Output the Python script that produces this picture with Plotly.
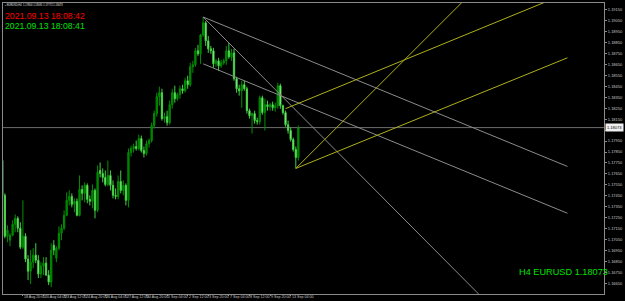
import plotly.graph_objects as go

# ---- data (EURUSD H4, bar index 0 = 17 Aug 2021 12:00) ----
open_ = [1.17772, 1.17454, 1.17080, 1.17044, 1.17089, 1.17189, 1.17244, 1.17153, 1.16980, 1.17080,
         1.16871, 1.16761, 1.16843, 1.16907, 1.16861, 1.16734, 1.16807, 1.16834, 1.16725, 1.16661,
         1.16998, 1.16880, 1.16971, 1.17107, 1.17153, 1.17271, 1.17408, 1.17444, 1.17372, 1.17399,
         1.17271, 1.17508, 1.17472, 1.17545, 1.17417, 1.17399, 1.17499, 1.17317, 1.17681, 1.17654,
         1.17618, 1.17554, 1.17636, 1.17545, 1.17454, 1.17444, 1.17581, 1.17499, 1.17545, 1.17408,
         1.17845, 1.17882, 1.17900, 1.17882, 1.17973, 1.17863, 1.17836, 1.17927, 1.17955, 1.18091,
         1.18201, 1.18355, 1.18392, 1.18155, 1.18173, 1.18119, 1.18283, 1.18392, 1.18337, 1.18374,
         1.18428, 1.18410, 1.18501, 1.18465, 1.18629, 1.18647, 1.18775, 1.18747, 1.18920, 1.19030,
         1.18866, 1.18793, 1.18775, 1.18656, 1.18683, 1.18638, 1.18665, 1.18683, 1.18775, 1.18720,
         1.18756, 1.18519, 1.18428, 1.18410, 1.18465, 1.18428, 1.18228, 1.18182, 1.18201, 1.18137,
         1.18128, 1.18346, 1.18210, 1.18283, 1.18264, 1.18283, 1.18255, 1.18273, 1.18456, 1.18273,
         1.18210, 1.18100, 1.18046, 1.17964, 1.17873, 1.17800]
high = [1.17818, 1.17472, 1.17180, 1.17107, 1.17226, 1.17280, 1.17262, 1.17208, 1.17408, 1.17107,
        1.16907, 1.16953, 1.16971, 1.17016, 1.16907, 1.16843, 1.16889, 1.16889, 1.16770, 1.17016,
        1.17044, 1.16989, 1.17171, 1.17189, 1.17317, 1.17481, 1.17499, 1.17472, 1.17426, 1.17426,
        1.17636, 1.17545, 1.17572, 1.17563, 1.17454, 1.17554, 1.17517, 1.17727, 1.17754, 1.17700,
        1.17681, 1.17772, 1.17681, 1.17590, 1.17517, 1.17636, 1.17681, 1.17590, 1.17563, 1.17882,
        1.17909, 1.17927, 1.17955, 1.18009, 1.18000, 1.17900, 1.17955, 1.17973, 1.18119, 1.18228,
        1.18392, 1.18447, 1.18428, 1.18210, 1.18228, 1.18319, 1.18428, 1.18456, 1.18392, 1.18456,
        1.18465, 1.18529, 1.18547, 1.18665, 1.18683, 1.18802, 1.18829, 1.18929, 1.19084, 1.19048,
        1.18911, 1.18820, 1.18802, 1.18702, 1.18711, 1.18693, 1.18702, 1.18820, 1.18847, 1.18793,
        1.18793, 1.18538, 1.18465, 1.18501, 1.18501, 1.18447, 1.18246, 1.18210, 1.18228, 1.18164,
        1.18365, 1.18365, 1.18337, 1.18319, 1.18301, 1.18310, 1.18301, 1.18483, 1.18474, 1.18283,
        1.18228, 1.18137, 1.18073, 1.17982, 1.17900, 1.18091]
low = [1.17426, 1.17062, 1.17025, 1.16989, 1.17080, 1.17116, 1.17116, 1.16962, 1.16962, 1.16843,
       1.16679, 1.16643, 1.16788, 1.16834, 1.16697, 1.16697, 1.16725, 1.16716, 1.16634, 1.16615,
       1.16907, 1.16843, 1.16953, 1.17044, 1.17135, 1.17262, 1.17362, 1.17344, 1.17299, 1.17262,
       1.17262, 1.17408, 1.17390, 1.17381, 1.17362, 1.17335, 1.17244, 1.17299, 1.17618, 1.17572,
       1.17536, 1.17536, 1.17499, 1.17426, 1.17417, 1.17417, 1.17472, 1.17454, 1.17362, 1.17344,
       1.17809, 1.17845, 1.17863, 1.17863, 1.17845, 1.17800, 1.17818, 1.17891, 1.17936, 1.18064,
       1.18173, 1.18273, 1.18137, 1.18119, 1.18091, 1.18100, 1.18246, 1.18301, 1.18319, 1.18337,
       1.18383, 1.18392, 1.18428, 1.18447, 1.18574, 1.18629, 1.18729, 1.18656, 1.18902, 1.18820,
       1.18756, 1.18747, 1.18620, 1.18629, 1.18592, 1.18620, 1.18647, 1.18647, 1.18702, 1.18683,
       1.18501, 1.18392, 1.18365, 1.18255, 1.18410, 1.18201, 1.18155, 1.18018, 1.18109, 1.18100,
       1.18100, 1.18191, 1.18046, 1.18228, 1.18228, 1.18228, 1.18219, 1.18246, 1.18246, 1.18191,
       1.18082, 1.18018, 1.17945, 1.17854, 1.17700, 1.17772]
close = [1.17454, 1.17080, 1.17135, 1.17089, 1.17189, 1.17244, 1.17153, 1.16980, 1.17080, 1.16871,
         1.16761, 1.16843, 1.16907, 1.16861, 1.16734, 1.16807, 1.16834, 1.16725, 1.16661, 1.16953,
         1.16953, 1.16971, 1.17107, 1.17153, 1.17271, 1.17408, 1.17444, 1.17372, 1.17399, 1.17271,
         1.17508, 1.17472, 1.17545, 1.17417, 1.17399, 1.17499, 1.17317, 1.17663, 1.17654, 1.17618,
         1.17554, 1.17636, 1.17545, 1.17454, 1.17444, 1.17581, 1.17499, 1.17545, 1.17408, 1.17845,
         1.17882, 1.17900, 1.17882, 1.17973, 1.17863, 1.17836, 1.17927, 1.17955, 1.18091, 1.18201,
         1.18355, 1.18392, 1.18155, 1.18173, 1.18119, 1.18283, 1.18392, 1.18337, 1.18374, 1.18428,
         1.18410, 1.18501, 1.18465, 1.18629, 1.18647, 1.18775, 1.18747, 1.18920, 1.19030, 1.18866,
         1.18793, 1.18775, 1.18656, 1.18683, 1.18638, 1.18665, 1.18683, 1.18775, 1.18720, 1.18756,
         1.18519, 1.18428, 1.18410, 1.18465, 1.18428, 1.18228, 1.18182, 1.18201, 1.18137, 1.18128,
         1.18346, 1.18210, 1.18283, 1.18264, 1.18283, 1.18255, 1.18273, 1.18456, 1.18273, 1.18210,
         1.18100, 1.18046, 1.17964, 1.17873, 1.17800, 1.18073]
bar_index = list(range(len(open_)))

date_tick_index = [0, 8, 16, 24, 32, 40, 48, 56, 64, 72, 80, 88, 96, 104, 112]
date_tick_text = ["17 Aug 2021", "18 Aug 20:00", "20 Aug 04:00", "23 Aug 12:00", "24 Aug 20:00",
                  "26 Aug 04:00", "27 Aug 12:00", "30 Aug 20:00", "1 Sep 04:00", "2 Sep 12:00",
                  "3 Sep 20:00", "7 Sep 04:00", "8 Sep 12:00", "9 Sep 20:00", "13 Sep 04:00"]

price_ticks = [round(1.1655 + 0.001 * k, 4) for k in range(27)]
bid = 1.18073
# the tick hidden behind the bid price box gets no label
price_tick_text = ["" if abs(p - bid) < 0.0004 else "%.5f" % p for p in price_ticks]

symbol_label = "H4 EURUSD 1.18073"
time_red = "2021.09.13 18:08:42"
time_green = "2021.09.13 18:08:41"
header = "EURUSD,H4  1.17800 1.18091 1.17772 1.18073"

# drawn objects (bar index, price)
gray_lines = [
    (78, 1.19084, 219.5, 1.17718),
    (78, 1.18656, 219.5, 1.17290),
    (78, 1.19084, 185.0, 1.16552),
]
yellow_lines = [
    (110, 1.18246, 211.0, 1.19222),
    (114, 1.17700, 219.5, 1.18711),
    (114, 1.17700, 179.5, 1.19240),
]

FONT = "Liberation Sans, Arial, sans-serif"

fig = go.Figure()
fig.add_trace(go.Candlestick(
    x=bar_index, open=open_, high=high, low=low, close=close,
    increasing=dict(line=dict(color="#009000", width=1), fillcolor="#007000"),
    decreasing=dict(line=dict(color="#40d040", width=1), fillcolor="#c8ffc8"),
    whiskerwidth=0, hoverinfo="skip", showlegend=False,
))

shapes = []
shapes.append(dict(type="line", xref="paper", yref="y", x0=0, x1=1, y0=bid, y1=bid,
                   line=dict(color="#6e6e6e", width=1), layer="below"))
for x0, y0, x1, y1 in gray_lines:
    shapes.append(dict(type="line", xref="x", yref="y", x0=x0, y0=y0, x1=x1, y1=y1,
                       line=dict(color="#8c8c8c", width=1)))
for x0, y0, x1, y1 in yellow_lines:
    shapes.append(dict(type="line", xref="x", yref="y", x0=x0, y0=y0, x1=x1, y1=y1,
                       line=dict(color="#b0b01c", width=1)))

annotations = []
for xi, t in zip(date_tick_index, date_tick_text):
    annotations.append(dict(x=xi, y=0, xref="x", yref="paper", text=t, showarrow=False,
                            xanchor="left", yanchor="top", xshift=0, yshift=0, borderpad=0,
                            font=dict(family=FONT, size=3.6, color="#c8c8c8")))
annotations += [
    dict(x=0, y=1, xref="paper", yref="paper", text="\u25aa " + header, showarrow=False,
         xanchor="left", yanchor="top", xshift=1, yshift=1, borderpad=0,
         font=dict(family=FONT, size=2.6, color="#e0e0e0")),
    dict(x=0, y=0.954, xref="paper", yref="paper", text=time_red, showarrow=False,
         xanchor="left", yanchor="middle", xshift=1, borderpad=0,
         font=dict(family=FONT, size=8.7, color="#ff0000")),
    dict(x=0, y=0.920, xref="paper", yref="paper", text=time_green, showarrow=False,
         xanchor="left", yanchor="middle", xshift=1, borderpad=0,
         font=dict(family=FONT, size=8.7, color="#00e000")),
    dict(x=1, y=0.075, xref="paper", yref="paper", text=symbol_label, showarrow=False,
         xanchor="right", yanchor="middle", xshift=5, borderpad=0,
         font=dict(family=FONT, size=9.2, color="#00e000")),
    dict(x=1, y=bid, xref="paper", yref="y", text="%.5f" % bid, showarrow=False,
         xanchor="left", yanchor="middle", xshift=1, bgcolor="#f0f0f0", borderpad=1,
         font=dict(family=FONT, size=4, color="#000000")),
]

fig.update_layout(
    width=625, height=301,
    margin=dict(l=2, r=16, t=2, b=7),
    paper_bgcolor="#000000", plot_bgcolor="#000000",
    shapes=shapes, annotations=annotations,
    xaxis=dict(range=[0.27, 233.7], showgrid=False, zeroline=False, rangeslider=dict(visible=False),
               showline=True, linecolor="#8a8a8a", linewidth=1, mirror=True,
               tickvals=date_tick_index, ticktext=[""] * len(date_tick_index),
               ticks="outside", ticklen=1, tickcolor="#8a8a8a"),
    yaxis=dict(range=[1.16552, 1.19212], side="right", showgrid=False, zeroline=False,
               showline=True, linecolor="#8a8a8a", linewidth=1, mirror=True,
               tickvals=price_ticks, ticktext=price_tick_text, ticks="outside", ticklen=2,
               tickcolor="#8a8a8a",
               tickfont=dict(family=FONT, size=4, color="#c8c8c8")),
    showlegend=False,
)

fig.write_html("out.html")
